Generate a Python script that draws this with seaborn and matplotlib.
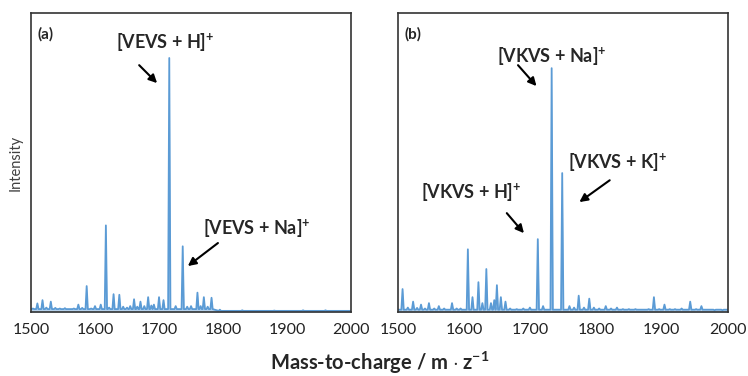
import numpy as np
import pandas as pd
import matplotlib
matplotlib.use("Agg")
import matplotlib.pyplot as plt
import seaborn as sns

# peak lists (m/z, relative intensity)
mz_a = [1503, 1510, 1518, 1524, 1531, 1538, 1545, 1553, 1560, 1567, 1574, 1580, 1587,
        1594, 1600, 1609, 1617, 1622, 1629, 1638, 1644, 1650, 1655, 1661, 1666, 1671,
        1677, 1683, 1688, 1692, 1700, 1707, 1716, 1726, 1737, 1744, 1750, 1760, 1765,
        1770, 1776, 1782, 1795, 1830, 1880, 1925, 1960, 1990]
int_a = [0.012, 0.029, 0.040, 0.015, 0.035, 0.014, 0.012, 0.013, 0.010, 0.012, 0.025, 0.014, 0.087,
         0.012, 0.020, 0.025, 0.290, 0.015, 0.060, 0.058, 0.018, 0.015, 0.020, 0.043, 0.018, 0.035,
         0.020, 0.050, 0.022, 0.025, 0.050, 0.040, 0.850, 0.020, 0.220, 0.018, 0.020, 0.065, 0.020,
         0.050, 0.018, 0.048, 0.008, 0.006, 0.005, 0.006, 0.006, 0.004]

mz_b = [1507, 1515, 1523, 1529, 1535, 1541, 1547, 1555, 1562, 1570, 1582, 1589, 1595, 1606,
        1613, 1622, 1628, 1634, 1641, 1646, 1650, 1656, 1663, 1670, 1680, 1690, 1700, 1712,
        1720, 1733, 1749, 1760, 1767, 1774, 1782, 1790, 1797, 1805, 1815, 1823, 1832, 1841,
        1850, 1860, 1870, 1880, 1888, 1896, 1904, 1912, 1920, 1930, 1943, 1952, 1960, 1970, 1980, 1992]
int_b = [0.077, 0.015, 0.035, 0.014, 0.025, 0.012, 0.030, 0.012, 0.020, 0.012, 0.030, 0.012, 0.012, 0.210,
         0.050, 0.100, 0.030, 0.144, 0.030, 0.040, 0.090, 0.050, 0.035, 0.012, 0.010, 0.012, 0.015, 0.244,
         0.020, 0.816, 0.465, 0.020, 0.015, 0.055, 0.015, 0.045, 0.015, 0.012, 0.020, 0.012, 0.015, 0.010,
         0.010, 0.010, 0.008, 0.010, 0.050, 0.010, 0.025, 0.010, 0.010, 0.012, 0.035, 0.010, 0.020, 0.008, 0.006, 0.006]

# baseline (noise floor) level per m/z range: (start, end, level)
base_a = [(1500, 1790, 0.010), (1790, 2001, 0.004)]
base_b = [(1500, 2001, 0.008)]

xticks = [1500, 1600, 1700, 1800, 1900, 2000]

labels_a = [("[VEVS + H]", 1709, 0.90, (1669, 0.826), (1697, 0.766)),
            ("[VEVS + Na]", 1852, 0.277, (1792, 0.231), (1745, 0.154))]
labels_b = [("[VKVS + Na]", 1733, 0.853, (1682, 0.826), (1710, 0.756)),
            ("[VKVS + K]", 1833, 0.50, (1821, 0.441), (1775, 0.368)),
            ("[VKVS + H]", 1611, 0.398, (1665, 0.331), (1691, 0.264))]

line_color = "#5B9BD5"


def base_at(m, base):
    for lo, hi, lev in base:
        if lo <= m < hi:
            return lev
    return base[-1][2]


def profile(mz, inten, base, w=1.8):
    # each peak drawn as a narrow spike between two baseline points
    xs, ys = [1500], [base_at(1500, base)]
    for m, h in sorted(zip(mz, inten)):
        b = base_at(m, base)
        xs += [m - w, m, m + w]
        ys += [b, h, b]
    xs.append(2000)
    ys.append(base_at(2000, base))
    return pd.DataFrame({"mz": xs, "intensity": ys})


sns.set_style("white")
plt.rcParams["font.family"] = ["Lato", "DejaVu Sans"]
plt.rcParams["mathtext.fontset"] = "custom"
plt.rcParams["mathtext.rm"] = "Lato:bold"
plt.rcParams["mathtext.bf"] = "Lato:bold"

fig = plt.figure(figsize=(7.48, 3.76), dpi=100)
ax_a = fig.add_axes([0.0414, 0.170, 0.428, 0.795])
ax_b = fig.add_axes([0.532, 0.170, 0.441, 0.795])

for ax, mz, inten, base, tag, labels in [(ax_a, mz_a, int_a, base_a, "(a)", labels_a),
                                         (ax_b, mz_b, int_b, base_b, "(b)", labels_b)]:
    df = profile(mz, inten, base)
    sns.lineplot(data=df, x="mz", y="intensity", ax=ax, color=line_color,
                 linewidth=1.3, estimator=None, sort=False)
    ax.fill_between(df["mz"], df["intensity"], color=line_color, alpha=0.45, lw=0)
    ax.set_xlim(1500, 2000)
    ax.set_ylim(0, 1)
    ax.set_xticks(xticks)
    ax.set_xticklabels([str(t) for t in xticks], fontsize=11.5, color="#222222")
    ax.tick_params(axis="x", length=0, pad=8)
    ax.set_yticks([])
    ax.set_xlabel("")
    ax.set_ylabel("")
    for s in ax.spines.values():
        s.set_color("#333333")
        s.set_linewidth(1.2)
    ax.text(0.02, 0.93, tag, transform=ax.transAxes, fontsize=11,
            fontweight="bold", va="center", ha="left")
    for txt, tx, ty, start, end in labels:
        ax.text(tx, ty, txt + r"$^{+}$", fontsize=13, fontweight="bold",
                ha="center", va="center")
        ax.annotate("", xy=end, xytext=start,
                    arrowprops=dict(arrowstyle="-|>", color="black", lw=1.5,
                                    mutation_scale=12, shrinkA=0, shrinkB=0))

ax_a.set_ylabel("Intensity", fontsize=10.5, color="#404040", labelpad=6)
fig.text(0.508, 0.035, r"Mass-to-charge / m $\cdot$ z$^{-1}$", ha="center",
         va="center", fontsize=14.5, fontweight="bold")

fig.savefig("out.png", dpi=100)
